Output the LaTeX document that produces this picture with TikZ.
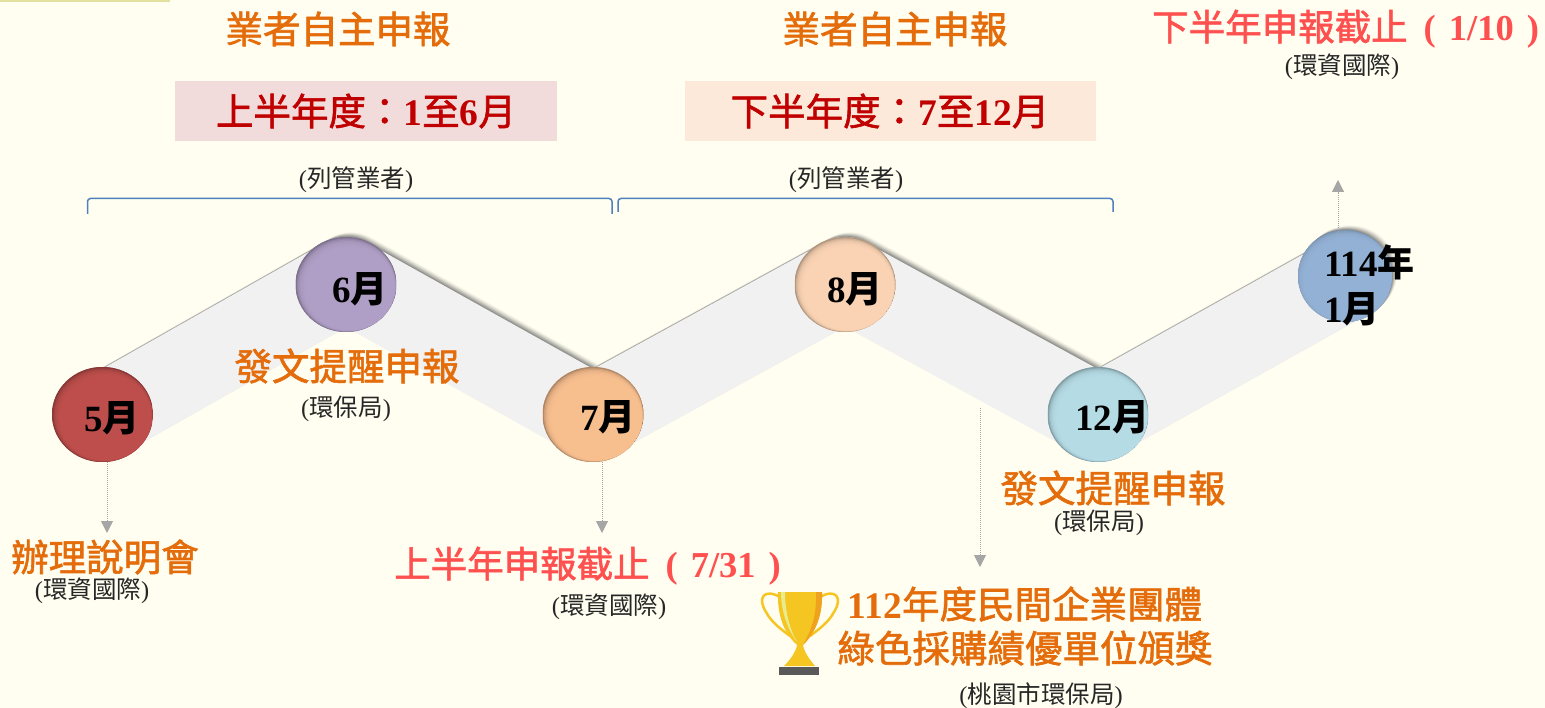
\documentclass[tikz,border=0pt]{standalone}
\usepackage{fontspec}
\setmainfont{Noto Sans CJK TC}
\newfontfamily\latfont{Liberation Serif}
\newfontfamily\medfont{Noto Sans CJK TC}[FakeBold=1.6]
\newcommand{\lat}[1]{{\latfont #1}}
\newcommand{\latb}[1]{{\latfont\bfseries #1}}
\usetikzlibrary{arrows.meta}
\usetikzlibrary{shapes.geometric}
\definecolor{pagebg}{HTML}{FFFEF0}
\definecolor{stripcol}{HTML}{E4E0A0}
\definecolor{orangetxt}{HTML}{E46C0A}
\definecolor{redtxt}{HTML}{FF5050}
\definecolor{darkred}{HTML}{C00000}
\definecolor{smalltxt}{HTML}{262626}
\definecolor{bracecol}{HTML}{4F81BD}
\definecolor{bandcol}{HTML}{F1F1F2}
\definecolor{flowcol}{HTML}{A6A6A6}
\definecolor{boxone}{HTML}{F2DCDB}
\definecolor{boxtwo}{HTML}{FDE9D9}
\definecolor{cfive}{HTML}{C0504D}
\definecolor{csix}{HTML}{B1A0C7}
\definecolor{cseven}{HTML}{FAC090}
\definecolor{ceight}{HTML}{FCD5B5}
\definecolor{ctwelve}{HTML}{B7DEE8}
\definecolor{cnext}{HTML}{95B3D7}
\definecolor{cupgold}{HTML}{F5C522}
\definecolor{cupdark}{HTML}{EFA21E}
\definecolor{cuplight}{HTML}{E9EC8C}
\definecolor{cupbase}{HTML}{595959}
\tikzset{
  monthball/.style={ellipse, inner sep=0pt, minimum width=101pt, minimum height=95pt, fill=#1,
    path picture={
      \fill[#1!50!black] (path picture bounding box.north west) rectangle (path picture bounding box.south east);
      \foreach \k in {0,...,7}
        \fill[#1, opacity=0.42] ([shift={(0.55*\k,0.55*\k)}]path picture bounding box.center) ellipse ({50.5-\k*0.8} and {47.5-\k*0.8});
    }},
  monthtext/.style={inner sep=0pt, align=left, font=\fontsize{37}{46}\selectfont\bfseries},
  orangetitle/.style={inner sep=0pt, text=orangetxt, align=center, font=\medfont\fontsize{37.5}{44}\selectfont},
  redtitle/.style={inner sep=0pt, anchor=west, text=redtxt, font=\medfont\fontsize{36.5}{44}\selectfont},
  periodbox/.style={inner sep=0pt, text=darkred, font=\medfont\fontsize{37.5}{44}\selectfont},
  whotext/.style={inner sep=0pt, text=smalltxt, font=\fontsize{24.5}{30}\selectfont},
  bracket/.style={draw=bracecol, line width=1.5pt, rounded corners=3pt},
  flowarrow/.style={draw=flowcol, densely dotted, line width=1pt, -{Triangle[width=12pt,length=12pt,fill=flowcol]}},
  band/.style={line width=84pt, line join=round}
}
\begin{document}
\begin{tikzpicture}[x=1pt,y=-1pt]
  \useasboundingbox (0,0) rectangle (1545,708);
  \fill[pagebg] (0,0) rectangle (1545,708);
  \fill[stripcol] (0,0) rectangle (170,2.5);
  % zigzag band
  \coordinate (p5) at (102.5,417);
  \coordinate (p6) at (346,279);
  \coordinate (p7) at (593,417);
  \coordinate (p8) at (845,279);
  \coordinate (p12) at (1098,417);
  \coordinate (p114) at (1345,279);
  \coordinate (p114top) at (1345,276);
  \foreach \s/\o in {1.75/0.05,1.5/0.07,1.25/0.09,1/0.12,0.75/0.15,0.5/0.18,0.25/0.2}{
    \draw[band, black!70, opacity=\o] ([shift={(3*\s,-2.6*\s)}]p5) -- ([shift={(3*\s,-2.6*\s)}]p6) -- ([shift={(3*\s,-2.6*\s)}]p7) -- ([shift={(3*\s,-2.6*\s)}]p8) -- ([shift={(3*\s,-2.6*\s)}]p12) -- ([shift={(3*\s,-2.6*\s)}]p114);
    \fill[black!70, opacity=\o] ([shift={(3*\s,-2.6*\s)}]p114top) ellipse (47 and 46);
  }
  \draw[band, bandcol] (p5) -- (p6) -- (p7) -- (p8) -- (p12) -- (p114);
  % months
  \node[monthball=cfive] (m5) at (102.5,414.5) {};
  \node[monthball=csix] (m6) at (346,284.5) {};
  \node[monthball=cseven] (m7) at (593,414.5) {};
  \node[monthball=ceight] (m8) at (845,284.5) {};
  \node[monthball=ctwelve] (m12) at (1098,414.5) {};
  \node[monthball=cnext, minimum width=94pt, minimum height=92pt] (m114) at (p114top) {};
  \node[monthtext] (t5) at (112,418) {\lat{5}月};
  \node[monthtext] (t6) at (360,289) {\lat{6}月};
  \node[monthtext] (t7) at (608,417) {\lat{7}月};
  \node[monthtext] (t8) at (855,289) {\lat{8}月};
  \node[monthtext] (t12) at (1112,417) {\lat{12}月};
  \node[monthtext, anchor=west] (t114) at (1324,285) {\lat{114}年\\\lat{1}月};
  % top titles
  \node[orangetitle] (self1) at (338,29) {業者自主申報};
  \node[orangetitle] (self2) at (895,29) {業者自主申報};
  \node[fill=boxone, minimum width=382pt, minimum height=60pt, inner sep=0pt] (half1) at (366,111) {};
  \node[periodbox] (half1t) at (366,111) {上半年度：\latb{1}至\latb{6}月};
  \node[fill=boxtwo, minimum width=411pt, minimum height=60pt, inner sep=0pt] (half2) at (890.5,111) {};
  \node[periodbox] (half2t) at (890,111) {下半年度：\latb{7}至\latb{12}月};
  \node[whotext] (list1) at (356,180) {\lat{(}列管業者\lat{)}};
  \node[whotext] (list2) at (846,180) {\lat{(}列管業者\lat{)}};
  \coordinate (b1l) at (87.5,214);
  \coordinate (b1r) at (612,214);
  \coordinate (b2l) at (618,212);
  \coordinate (b2r) at (1113,212);
  \draw[bracket] (b1l) -- ++(0,-15.5) -| (b1r);
  \draw[bracket] (b2l) -- ++(0,-13.5) -| (b2r);
  % labels along the band
  \node[orangetitle] (remind1) at (347,366) {發文提醒申報};
  \node[whotext] (remind1w) at (346,409) {\lat{(}環保局\lat{)}};
  \node[orangetitle] (remind2) at (1113,488) {發文提醒申報};
  \node[whotext] (remind2w) at (1099,523) {\lat{(}環保局\lat{)}};
  \node[orangetitle] (brief) at (105,557) {辦理說明會};
  \node[whotext] (briefw) at (92,591) {\lat{(}環資國際\lat{)}};
  \node[redtitle] (end1) at (394,566) {上半年申報截止\hspace{16pt}\latb{(}\hspace{13pt}\latb{7/31}\hspace{13pt}\latb{)}};
  \node[whotext] (end1w) at (609,607) {\lat{(}環資國際\lat{)}};
  \node[redtitle] (end2) at (1152,29) {下半年申報截止\hspace{16pt}\latb{(}\hspace{13pt}\latb{1/10}\hspace{13pt}\latb{)}};
  \node[whotext] (end2w) at (1342,67) {\lat{(}環資國際\lat{)}};
  \node[orangetitle] (award) at (1025,626) {\latb{112}年度民間企業團體\\綠色採購績優單位頒獎};
  \node[whotext] (awardw) at (1041,696) {\lat{(}桃園市環保局\lat{)}};
  % dotted arrows
  \coordinate (a5) at (107,533);
  \coordinate (a7) at (602,533);
  \coordinate (a12s) at (980,408);
  \coordinate (a12) at (980,567);
  \coordinate (a114) at (1338,180);
  \coordinate (a114s) at (1338,236);
  \draw[flowarrow] (a5 |- m5.south) -- (a5);
  \draw[flowarrow] (a7 |- m7.south) -- (a7);
  \draw[flowarrow] (a12s) -- (a12);
  \draw[flowarrow] (a114s) -- (a114);
  % trophy
  \draw[cupgold, line width=2.5pt] (780,597) .. controls (764,588) and (757,598) .. (766,612) .. controls (771,622) and (782,630) .. (790,636);
  \draw[cupgold, line width=2.5pt] (820,597) .. controls (836,588) and (843,598) .. (834,612) .. controls (829,622) and (818,630) .. (810,636);
  \fill[cupgold] (778,592) -- (822,592) .. controls (823,620) and (812,636) .. (803,645) .. controls (804,652) and (810,660) .. (815,666) -- (784,666) .. controls (790,660) and (796,652) .. (797,645) .. controls (787,636) and (777,620) .. (778,592) -- cycle;
  \fill[cupdark] (816,592) -- (822,592) .. controls (823,620) and (812,636) .. (803,645) .. controls (810,632) and (817,618) .. (816,592) -- cycle;
  \fill[cuplight] (781,592) -- (785,592) .. controls (785,612) and (790,630) .. (797,642) .. controls (788,630) and (781,612) .. (781,592) -- cycle;
  \fill[cupbase] (779,667) rectangle (819,675);
\end{tikzpicture}
\end{document}
